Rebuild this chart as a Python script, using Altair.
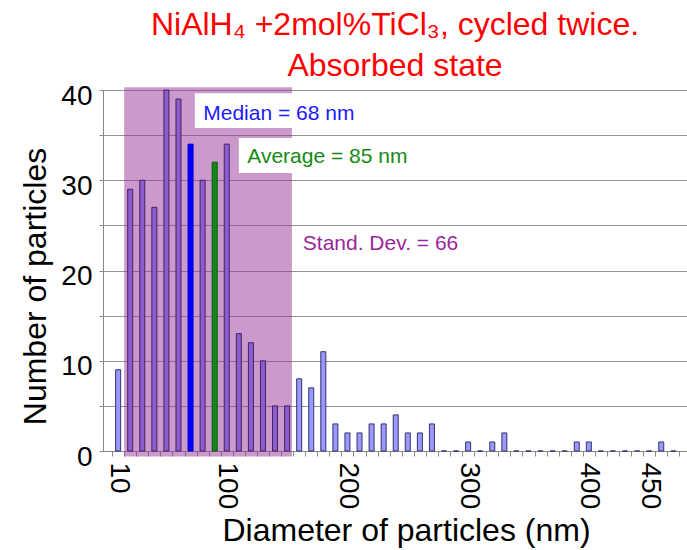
import altair as alt
import pandas as pd

# ---- data ----
# bins labelled by their upper edge (nm)
diameters = [10, 20, 30, 40, 50, 60, 70, 80, 90, 100,
             110, 120, 130, 140, 150, 160, 170, 180, 190, 200,
             210, 220, 230, 240, 250, 260, 270, 280, 290, 300,
             310, 320, 330, 340, 350, 360, 370, 380, 390, 400,
             410, 420, 430, 440, 450, 460, 470]
counts = [9, 29, 30, 27, 40, 39, 34, 30, 32, 34,
          13, 12, 10, 5, 5, 8, 7, 11, 3, 2,
          2, 3, 3, 4, 2, 2, 3, 0, 0, 1,
          0, 1, 2, 0, 0, 0, 0, 0, 1, 1,
          0, 0, 0, 0, 0, 1, 0]
median_bin = 70
average_bin = 90
std_band = [15, 154]          # shaded mean +/- std band (nm)
x_label_values = [10, 100, 200, 300, 400, 450]

annot_text = ["Median = 68 nm", "Average = 85 nm", "Stand. Dev. = 66"]
annot_x = [80.5, 117, 163]
annot_y = [36.7, 31.9, 22.3]
annot_color = ["#1a1aff", "#148a14", "#9b259b"]

box_x = [73.5, 110]
box_x2 = [212, 256]
box_y = [39.65, 34.68]
box_y2 = [35.8, 30.8]

FONT = "Liberation Sans"

def group_of(d):
    if d == median_bin:
        return "median"
    if d == average_bin:
        return "average"
    if std_band[0] < d < std_band[1]:
        return "std"
    return "other"

bars = pd.DataFrame({"diameter": diameters, "count": counts})
bars["group"] = [group_of(d) for d in diameters]

tick_edges = [d - 5 for d in diameters] + [diameters[-1] + 5]
x_values = sorted(set(tick_edges + x_label_values))
lbl_list = "[" + ",".join(str(v) for v in x_label_values) + "]"

xscale = alt.Scale(domain=[1.6, 477.2], nice=False, zero=False)
yscale = alt.Scale(domain=[0, 40], nice=False)

xaxis = alt.Axis(
    values=x_values,
    labelExpr=f"indexof({lbl_list}, datum.value) >= 0 ? datum.label : ''",
    tickOpacity={"condition": {"test": f"indexof({lbl_list}, datum.value) >= 0", "value": 0}, "value": 1},
    labelAngle=90, labelFontSize=28, labelFont=FONT, labelColor="black",
    labelOverlap=False, labelFlush=False, labelBound=False,
    tickSize=5, tickColor="#888888", domainColor="#888888",
    labelPadding=6, grid=False,
    title="Diameter of particles (nm)", titleFontSize=32, titleFont=FONT,
    titleFontWeight="normal", titleColor="black", titlePadding=7, titleX=303,
)
yaxis = alt.Axis(
    values=[0, 5, 10, 15, 20, 25, 30, 35, 40],
    labelExpr="datum.value % 10 == 0 ? datum.label : ''",
    labelFontSize=28, labelFont=FONT, labelColor="black", labelOffset=6,
    labelPadding=7, tickSize=4, tickColor="#888888", domainColor="#888888",
    grid=True, gridColor="#939393", gridWidth=1,
    title="Number of particles", titleFontSize=32, titleFont=FONT,
    titleFontWeight="normal", titleColor="black", titlePadding=8, titleY=196,
)

shade_df = pd.DataFrame({"x": [std_band[0]], "x2": [std_band[1]], "y": [40.3], "y2": [-0.6]})
shade = alt.Chart(shade_df).mark_rect(color="#993399", opacity=0.5).encode(
    x=alt.X("x:Q", scale=xscale, axis=xaxis),
    x2="x2:Q",
    y=alt.Y("y:Q", scale=yscale, axis=yaxis),
    y2="y2:Q",
)

boxes_df = pd.DataFrame({"x": box_x, "x2": box_x2, "y": box_y, "y2": box_y2})
boxes = alt.Chart(boxes_df).mark_rect(color="white").encode(
    x=alt.X("x:Q", scale=xscale, axis=xaxis),
    x2="x2:Q",
    y=alt.Y("y:Q", scale=yscale, axis=yaxis),
    y2="y2:Q",
)

gdom = ["other", "std", "median", "average"]
bar_layer = alt.Chart(bars).mark_bar(size=5, strokeWidth=1).encode(
    x=alt.X("diameter:Q", scale=xscale, axis=xaxis),
    y=alt.Y("count:Q", scale=yscale, axis=yaxis),
    color=alt.Color("group:N", scale=alt.Scale(domain=gdom, range=["#9999ff", "#8c5cd0", "#0000ff", "#128a12"]), legend=None),
    stroke=alt.Stroke("group:N", scale=alt.Scale(domain=gdom, range=["#33336e", "#43235f", "#0000cc", "#0a5a0a"]), legend=None),
)

annot_df = pd.DataFrame({"x": annot_x, "y": annot_y, "text": annot_text, "color": annot_color})
texts = alt.Chart(annot_df).mark_text(align="left", baseline="alphabetic", fontSize=21, font=FONT).encode(
    x=alt.X("x:Q", scale=xscale, axis=xaxis),
    y=alt.Y("y:Q", scale=yscale, axis=yaxis),
    text="text:N",
    color=alt.Color("color:N", scale=None),
)

chart = alt.layer(shade, boxes, bar_layer, texts).properties(
    width=584,
    height=361,
    padding={"left": 103, "top": 90, "right": 0, "bottom": 99},
    autosize=alt.AutoSizeParams(type="none"),
    title=alt.TitleParams(
        ["NiAlH₄ +2mol%TiCl₃, cycled twice.", "Absorbed state"],
        color="#ff0000", fontSize=32, font=FONT, fontWeight="normal",
        anchor="middle", lineHeight=41, offset=-1,
    ),
).configure_view(strokeWidth=0).configure(font=FONT)

chart.save("out.html", embed_options={"renderer": "svg", "actions": False})
